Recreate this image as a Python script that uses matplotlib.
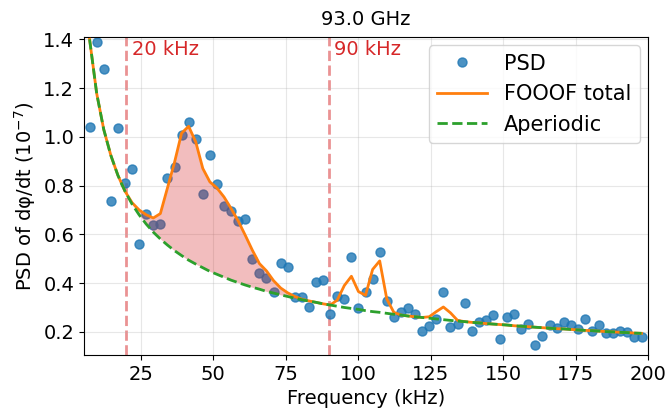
import matplotlib
matplotlib.use("Agg")
import matplotlib.pyplot as plt

# frequency bins (kHz)
freqs = [7.32, 9.77, 12.21, 14.65, 17.09, 19.53, 21.97, 24.41, 26.86, 29.30,
         31.74, 34.18, 36.62, 39.06, 41.50, 43.95, 46.39, 48.83, 51.27, 53.71,
         56.15, 58.59, 61.04, 63.48, 65.92, 68.36, 70.80, 73.24, 75.68, 78.13,
         80.57, 83.01, 85.45, 87.89, 90.33, 92.77, 95.21, 97.66, 100.10, 102.54,
         104.98, 107.42, 109.86, 112.30, 114.75, 117.19, 119.63, 122.07, 124.51, 126.95,
         129.39, 131.84, 134.28, 136.72, 139.16, 141.60, 144.04, 146.48, 148.93, 151.37,
         153.81, 156.25, 158.69, 161.13, 163.57, 166.02, 168.46, 170.90, 173.34, 175.78,
         178.22, 180.66, 183.11, 185.55, 187.99, 190.43, 192.87, 195.31, 197.75]

psd = [1.040, 1.389, 1.277, 0.737, 1.038, 0.811, 0.866, 0.562, 0.682, 0.640,
       0.644, 0.833, 0.876, 1.009, 1.061, 0.990, 0.767, 0.927, 0.808, 0.716,
       0.696, 0.655, 0.663, 0.499, 0.443, 0.420, 0.364, 0.483, 0.468, 0.343,
       0.341, 0.301, 0.405, 0.412, 0.273, 0.346, 0.334, 0.509, 0.296, 0.364,
       0.415, 0.527, 0.326, 0.259, 0.281, 0.297, 0.273, 0.203, 0.226, 0.251,
       0.363, 0.220, 0.234, 0.319, 0.203, 0.241, 0.248, 0.271, 0.169, 0.259,
       0.273, 0.212, 0.232, 0.148, 0.181, 0.230, 0.216, 0.239, 0.230, 0.211,
       0.251, 0.204, 0.229, 0.196, 0.197, 0.204, 0.201, 0.178, 0.178]

aperiodic = [1.400, 1.178, 1.030, 0.924, 0.842, 0.777, 0.724, 0.680, 0.642, 0.609,
             0.581, 0.556, 0.533, 0.513, 0.494, 0.478, 0.463, 0.448, 0.436, 0.424,
             0.412, 0.402, 0.392, 0.383, 0.375, 0.366, 0.359, 0.352, 0.345, 0.338,
             0.332, 0.326, 0.321, 0.315, 0.310, 0.305, 0.300, 0.296, 0.292, 0.287,
             0.283, 0.280, 0.276, 0.272, 0.269, 0.265, 0.262, 0.259, 0.256, 0.253,
             0.250, 0.247, 0.244, 0.242, 0.239, 0.237, 0.234, 0.232, 0.230, 0.228,
             0.225, 0.223, 0.221, 0.219, 0.217, 0.215, 0.213, 0.212, 0.210, 0.208,
             0.206, 0.205, 0.203, 0.201, 0.200, 0.198, 0.197, 0.195, 0.194]

fooof_total = [1.400, 1.178, 1.030, 0.924, 0.842, 0.777, 0.730, 0.700, 0.680, 0.667,
               0.685, 0.790, 0.895, 1.015, 1.043, 0.979, 0.870, 0.815, 0.790, 0.753,
               0.706, 0.655, 0.596, 0.535, 0.480, 0.450, 0.410, 0.380, 0.360, 0.345,
               0.334, 0.327, 0.321, 0.315, 0.310, 0.330, 0.390, 0.428, 0.365, 0.350,
               0.456, 0.491, 0.335, 0.280, 0.269, 0.265, 0.262, 0.259, 0.262, 0.283,
               0.302, 0.278, 0.247, 0.242, 0.239, 0.237, 0.234, 0.232, 0.230, 0.228,
               0.225, 0.223, 0.221, 0.219, 0.217, 0.215, 0.213, 0.212, 0.210, 0.208,
               0.206, 0.205, 0.203, 0.201, 0.200, 0.198, 0.197, 0.195, 0.194]

band_lo, band_hi = 20, 90
center_freq = "93.0 GHz"

fig = plt.figure(figsize=(6.7, 4.12), dpi=100)
ax = fig.add_axes([0.1254, 0.1383, 0.8418, 0.7717])

ax.plot(freqs, psd, 'o', color='tab:blue', alpha=0.8, ms=6.5, label='PSD', zorder=2)
in_band = [band_lo <= f <= band_hi for f in freqs]
ax.fill_between(freqs, aperiodic, fooof_total, where=in_band, color='tab:red',
                alpha=0.3, lw=0, zorder=2.5)
ax.plot(freqs, fooof_total, color='tab:orange', lw=2, label='FOOOF total', zorder=3)
ax.plot(freqs, aperiodic, '--', color='tab:green', lw=2, label='Aperiodic', zorder=3.1)

for f in (band_lo, band_hi):
    ax.axvline(f, color='tab:red', ls='--', lw=2, alpha=0.5, zorder=1.5)
    ax.text(f + 1.8, 1.36, str(f) + ' kHz', color='tab:red', fontsize=14, va='center')

ax.set_xlim(5.4, 200)
ax.set_ylim(0.105, 1.409)
ax.grid(alpha=0.3)
ax.tick_params(labelsize=14)
ax.set_xlabel('Frequency (kHz)', fontsize=14)
ax.set_ylabel('PSD of dφ/dt ($10^{-7}$)', fontsize=14)
ax.set_title(center_freq, fontsize=14, pad=9)
ax.legend(loc='upper right', fontsize=15, handlelength=2.4, borderaxespad=0.4)

fig.savefig('out.png', dpi=100)
